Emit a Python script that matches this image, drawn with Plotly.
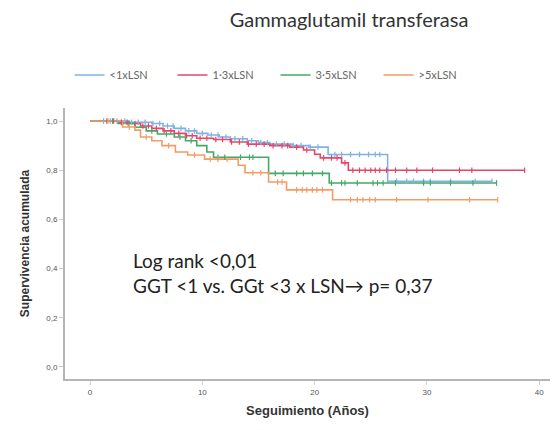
import numpy as np
import plotly.graph_objects as go

# Kaplan-Meier step curves per GGT group (time in years, cumulative survival)
groups = ["<1xLSN", "1·3xLSN", "3·5xLSN", ">5xLSN"]
colors = ["#7fb2e2", "#e6456a", "#45a866", "#f39c66"]

t_lt1 = [0, 3.5, 5.5, 6.5, 7.5, 8.5, 9.5, 10.5, 11.5, 12.5, 14, 15, 16, 18, 19.5, 21.2, 26.5, 35.8]
s_lt1 = [1.0, 0.995, 0.99, 0.98, 0.97, 0.96, 0.95, 0.943, 0.935, 0.928, 0.92, 0.912, 0.906, 0.90, 0.894, 0.864, 0.755, 0.755]
c_lt1 = [1.2, 1.8, 2.4, 3.1, 3.7, 4.3, 4.9, 5.6, 6.2, 6.9, 7.4, 8.1, 8.8, 9.3, 10.0, 10.8, 11.4, 12.1, 12.9, 13.6,
         14.4, 15.2, 15.8, 16.6, 17.3, 18.1, 18.8, 19.6, 20.3, 21.8, 22.4, 23.2, 24.0, 24.8, 25.4, 25.8,
         27.3, 28.2, 28.8, 29.7, 30.3, 32.1, 34.3, 35.8]

t_1_3 = [0, 2.5, 3.5, 4.5, 5.5, 6.5, 7.5, 8.5, 9.5, 11, 12.5, 14, 16, 17.8, 19, 20, 20.5, 22.4, 23, 38.7]
s_1_3 = [1.0, 0.995, 0.99, 0.98, 0.97, 0.96, 0.95, 0.94, 0.93, 0.925, 0.915, 0.906, 0.90, 0.894, 0.882, 0.865, 0.85, 0.83, 0.80, 0.80]
c_1_3 = [1.5, 2.1, 2.8, 3.3, 4.0, 4.7, 5.2, 5.9, 6.6, 7.2, 7.9, 8.6, 9.1, 9.8, 10.4, 11.2, 11.8, 12.6, 13.3, 14.1,
         14.8, 15.5, 16.3, 17.1, 17.6, 18.4, 19.3, 20.8, 21.5, 22.0, 22.7,
         23.4, 24.0, 24.5, 25.0, 25.4, 25.8, 26.4, 27.2, 28.2, 29.1, 30.5, 32.9, 34.0, 38.7]

t_3_5 = [0, 2.5, 4, 5, 6, 7.5, 8.5, 9.5, 10.4, 11, 15.9, 21.3, 36.2]
s_3_5 = [1.0, 0.99, 0.975, 0.96, 0.947, 0.935, 0.92, 0.90, 0.874, 0.853, 0.787, 0.748, 0.748]
c_3_5 = [2.0, 3.4, 5.5, 6.8, 8.0, 9.0, 11.4, 12.0, 13.4, 14.2, 14.5, 16.5, 17.2, 18.4, 19.0, 19.8, 20.7,
         21.5, 22.4, 22.7, 23.8, 25.2, 25.6, 26.1, 27.2, 29.7, 30.3, 32.1, 34.1, 36.2]

t_gt5 = [0, 2.9, 4, 4.5, 5.5, 6.4, 7.6, 8.7, 10.2, 13.2, 13.8, 15.9, 17.5, 21.6, 36.3]
s_gt5 = [1.0, 0.976, 0.963, 0.935, 0.92, 0.90, 0.874, 0.862, 0.845, 0.82, 0.79, 0.752, 0.72, 0.68, 0.68]
c_gt5 = [1.6, 3.5, 5.0, 7.0, 9.3, 10.7, 11.4, 12.2, 14.5, 15.2, 16.7, 17.1, 18.4, 18.9, 19.3, 19.8, 20.2, 20.7,
         23.2, 23.8, 24.3, 24.9, 25.4, 27.3, 30.1, 33.8, 36.3]

times = [t_lt1, t_1_3, t_3_5, t_gt5]
surv = [s_lt1, s_1_3, s_3_5, s_gt5]
cens = [c_lt1, c_1_3, c_3_5, c_gt5]

x_ticks = [0, 10, 20, 30, 40]
y_ticks = [0.0, 0.2, 0.4, 0.6, 0.8, 1.0]


def step_value(t, s, x):
    t = np.asarray(t)
    s = np.asarray(s)
    idx = np.searchsorted(t, np.asarray(x), side="right") - 1
    return s[np.clip(idx, 0, len(s) - 1)]


fig = go.Figure()
for name, col, t, s in zip(groups, colors, times, surv):
    fig.add_trace(go.Scatter(x=t, y=s, mode="lines", name=name,
                             line=dict(color=col, width=1.6, shape="hv")))
for col, t, s, c in zip(colors, times, surv, cens):
    fig.add_trace(go.Scatter(x=c, y=step_value(t, s, c), mode="markers", showlegend=False,
                             marker=dict(symbol="line-ns-open", size=4, color=col,
                                         line=dict(color=col, width=1.2)),
                             hoverinfo="skip"))

# Note inside the plot
fig.add_annotation(x=3.62, y=0.487, xanchor="left", yanchor="top", showarrow=False, align="left",
                   text="Log rank &lt;0,01<br>GGT &lt;1 vs. GGt &lt;3 x LSN→ p= 0,37",
                   font=dict(family="Lato", size=19, color="#222222"))

fig.update_layout(
    width=554, height=430, margin=dict(l=65, r=4, t=108, b=51),
    plot_bgcolor="white", paper_bgcolor="white", separators=",.",
    title=dict(text="Gammaglutamil transferasa", xref="container", yref="container",
               x=0.63, y=1 - 20 / 430, xanchor="center", yanchor="middle",
               font=dict(family="Lato", size=20, color="#333333")),
    showlegend=True,
    legend=dict(orientation="h", x=0.1255, y=1 - 75 / 430, xref="container", yref="container",
                yanchor="middle", xanchor="left",
                font=dict(family="Lato", size=11, color="#666666"),
                entrywidth=58, entrywidthmode="pixels", itemwidth=30,
                bgcolor="rgba(0,0,0,0)"),
    xaxis=dict(range=[-2.23, 40.96], tickvals=x_ticks, ticks="outside", ticklen=4,
               tickcolor="#cccccc", showgrid=False, zeroline=False,
               showline=True, linecolor="#b5b5b5", linewidth=2,
               tickfont=dict(family="Liberation Sans", size=8, color="#555555"),
               title=dict(text="<b>Seguimiento (Años)</b>", standoff=10,
                          font=dict(family="Liberation Sans", size=13, color="#333333"))),
    yaxis=dict(range=[-0.049, 1.053], tickvals=y_ticks, tickformat=".1f", ticks="outside",
               ticklen=4, tickcolor="#cccccc", showgrid=False, zeroline=False,
               showline=True, linecolor="#b5b5b5", linewidth=2,
               tickfont=dict(family="Liberation Sans", size=8, color="#555555"),
               title=dict(text="<b>Supervivencia acumulada</b>", standoff=14,
                          font=dict(family="Liberation Sans", size=12, color="#333333"))),
)

fig.write_html("out.html")
